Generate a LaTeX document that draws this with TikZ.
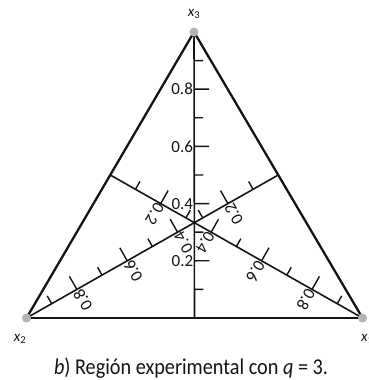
\documentclass[tikz,border=0pt]{standalone}
\usepackage{fontspec}
\setmainfont{Carlito}
\usetikzlibrary{calc}
\definecolor{dotgray}{HTML}{B4B4B4}
\definecolor{ink}{HTML}{141414}
\begin{document}
\begin{tikzpicture}[x=1pt,y=-1pt,
  side/.style={line width=2.3pt,draw=ink},
  basel/.style={line width=2.9pt,draw=ink},
  median/.style={line width=1.6pt,draw=ink},
  tick/.style={line width=1.4pt,draw=ink},
  lbl/.style={font=\fontsize{17}{17}\selectfont,text=ink,inner sep=1pt},
  vlbl/.style={font=\fontsize{15}{15}\selectfont\itshape,text=ink,inner sep=0pt},
  vdot/.style={circle,fill=dotgray,minimum size=9pt,inner sep=0pt}
]
\useasboundingbox (0,0) rectangle (368,380);
\coordinate (x3) at (194,32);
\coordinate (x2) at (26.5,318);
\coordinate (x1) at (362.5,318);
\coordinate (m3) at ($(x1)!0.5!(x2)$);
\coordinate (m2) at ($(x1)!0.5!(x3)$);
\coordinate (m1) at ($(x2)!0.5!(x3)$);
\draw[side] (x2) -- (x3) -- (x1);
\draw[basel] (x2) -- (x1);
\draw[median] (x3) -- (m3);
\draw[median] (x2) -- (m2);
\draw[median] (x1) -- (m1);
% ticks
\foreach \t/\L in {0.1/9,0.3/9,0.5/9,0.7/9,0.9/9,0.2/15,0.4/15,0.6/15,0.8/15}{
  \coordinate (pa) at ($(m3)!\t!(x3)$);
  \draw[tick] (pa) -- ($(pa)!\L pt!-90:(x3)$);
  \coordinate (pb) at ($(m2)!\t!(x2)$);
  \draw[tick] (pb) -- ($(pb)!\L pt!-90:(x2)$);
  \coordinate (pc) at ($(m1)!\t!(x1)$);
  \draw[tick] (pc) -- ($(pc)!\L pt!90:(x1)$);
}
% labels
\foreach \t/\n in {0.2/2,0.4/4,0.6/6,0.8/8}{
  \node[lbl,anchor=east] (la\n) at ($(m3)!\t!(x3)$) {\t};
  \node[lbl,anchor=east,rotate=120] (lb\n) at ($(m2)!\t!(x2)$) {\t};
  \node[lbl,anchor=west,rotate=240] (lc\n) at ($(m1)!\t!(x1)$) {\t};
}
\node[vdot] (d3) at (x3) {};
\node[vdot] (d2) at (x2) {};
\node[vdot] (d1) at (x1) {};
\node[vlbl] (t3) at (194,14) {x\textsubscript{\upshape 3}};
\node[vlbl] (t2) at (20,339) {x\textsubscript{\upshape 2}};
\node[vlbl,anchor=west] (t1) at (361,339) {x\textsubscript{\upshape 1}};
\node[text=ink,inner sep=0pt] (cap) at (191,368)
  {\scalebox{1}[1.12]{\resizebox{274pt}{!}{\fontsize{16}{16}\selectfont\textit{b}) Región experimental con \textit{q} = 3.}}};
\end{tikzpicture}
\end{document}
